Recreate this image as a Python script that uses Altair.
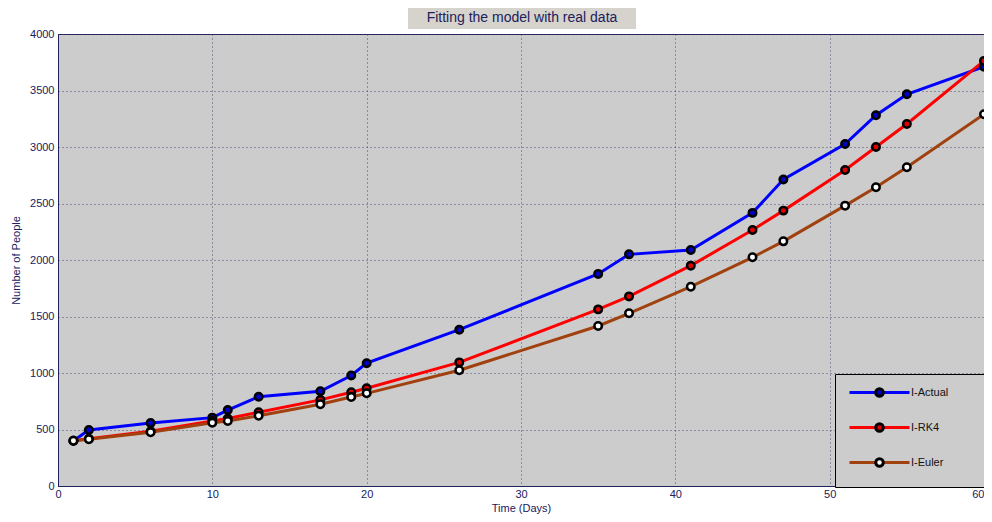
import altair as alt
import pandas as pd

# ---- data ----
days = [1, 2, 6, 10, 11, 13, 17, 19, 20, 26, 35, 37, 41, 45, 47, 51, 53, 55, 60]
actual = [400, 495, 557, 605, 672, 790, 838, 978, 1087, 1383, 1877, 2050, 2088, 2417, 2712, 3026, 3281, 3467, 3710]
rk4 = [400, 418, 485, 575, 598, 652, 762, 830, 865, 1094, 1563, 1678, 1950, 2265, 2437, 2796, 3000, 3204, 3762]
euler = [400, 413, 475, 560, 576, 622, 723, 788, 820, 1024, 1416, 1528, 1764, 2024, 2165, 2481, 2643, 2820, 3290]

series_names = ["I-Actual", "I-RK4", "I-Euler"]
line_colors = ["#0000ff", "#ff0000", "#a0410f"]
marker_fills = ["#0000c8", "#e00000", "#ffffff"]
x_ticks = [0, 10, 20, 30, 40, 50, 60]
y_ticks = [0, 500, 1000, 1500, 2000, 2500, 3000, 3500, 4000]
title_text = ["Fitting the model with real data"]
x_title = "Time (Days)"
y_title = "Number of People"

rows = []
for name, vals in zip(series_names, [actual, rk4, euler]):
    for d, v in zip(days, vals):
        rows.append({"series": name, "day": d, "value": v})
df = pd.DataFrame(rows)

NAVY = "#20205c"
FONT = "Liberation Sans"

x_enc = alt.X("day:Q",
              scale=alt.Scale(domain=[0, 60], nice=False, zero=False),
              axis=alt.Axis(title=x_title, values=x_ticks, labelFlush=False,
                            labelAlign={"condition": {"test": "datum.value >= 60", "value": "right"},
                                        "value": "center"},
                            labelPadding=2, titlePadding=3))
y_enc = alt.Y("value:Q",
              scale=alt.Scale(domain=[0, 4000], nice=False),
              axis=alt.Axis(title=y_title, values=y_ticks, format="d",
                            labelPadding=4, titlePadding=8))

# legend symbols: a long line, and a ringed marker at its middle
line_path = "M0,-1.2M0,0H12M12,1.2M26,0"
circ_path = "M0,-1.2M12,1.2M26,0M6.75,0A0.75,0.75,0,1,1,5.25,0A0.75,0.75,0,1,1,6.75,0Z"

common_leg = dict(title=None, orient="none", legendX=777, legendY=340,
                  symbolSize=100, symbolStrokeWidth=3, symbolOffset=-4,
                  labelOffset=55, labelFont=FONT, labelFontSize=11,
                  padding=12, rowPadding=10, symbolOpacity=1)

legend_lines = alt.Legend(symbolType=line_path, labelColor="#111111",
                          fillColor="#cccccc", strokeColor="#000000",
                          **common_leg)
legend_marks = alt.Legend(symbolType=circ_path, symbolStrokeColor="#000000",
                          labelOpacity=0, **common_leg)

lines = alt.Chart(df).mark_line(strokeWidth=3).encode(
    x=x_enc, y=y_enc,
    color=alt.Color("series:N", scale=alt.Scale(domain=series_names, range=line_colors),
                    legend=legend_lines),
    detail="series:N",
)

points = alt.Chart(df).mark_point(filled=True, size=56, stroke="#000000",
                                  strokeWidth=2.5, opacity=1).encode(
    x="day:Q", y="value:Q",
    fill=alt.Fill("series:N", scale=alt.Scale(domain=series_names, range=marker_fills),
                  legend=legend_marks),
)

tdf = pd.DataFrame({"t": title_text})
title_box = alt.Chart(tdf).mark_rect(color="#d6d3cc").encode(
    x=alt.value(350), x2=alt.value(578), y=alt.value(-27), y2=alt.value(-5))
title_txt = alt.Chart(tdf).mark_text(font=FONT, fontSize=14, color=NAVY,
                                     baseline="middle", align="center").encode(
    x=alt.value(464), y=alt.value(-16), text="t:N")

chart = alt.layer(lines, points, title_box, title_txt).resolve_legend(
    color="independent", fill="independent"
).properties(
    width=926, height=452,
    padding={"left": 50, "top": 26, "right": 0, "bottom": 28},
    autosize=alt.AutoSizeParams(type="none"),
    background="#ffffff",
).configure_view(
    fill="#cccccc", stroke=NAVY, strokeWidth=1
).configure_axis(
    grid=True, gridDash=[1, 3], gridColor="#3c3c6a", gridOpacity=0.9, gridWidth=1,
    domainColor=NAVY, domainWidth=1, tickSize=0,
    labelFont=FONT, labelFontSize=11, labelColor=NAVY,
    titleFont=FONT, titleFontSize=11, titleFontWeight="normal", titleColor=NAVY,
)

chart.save("out.html", embed_options={"renderer": "svg", "actions": False})
